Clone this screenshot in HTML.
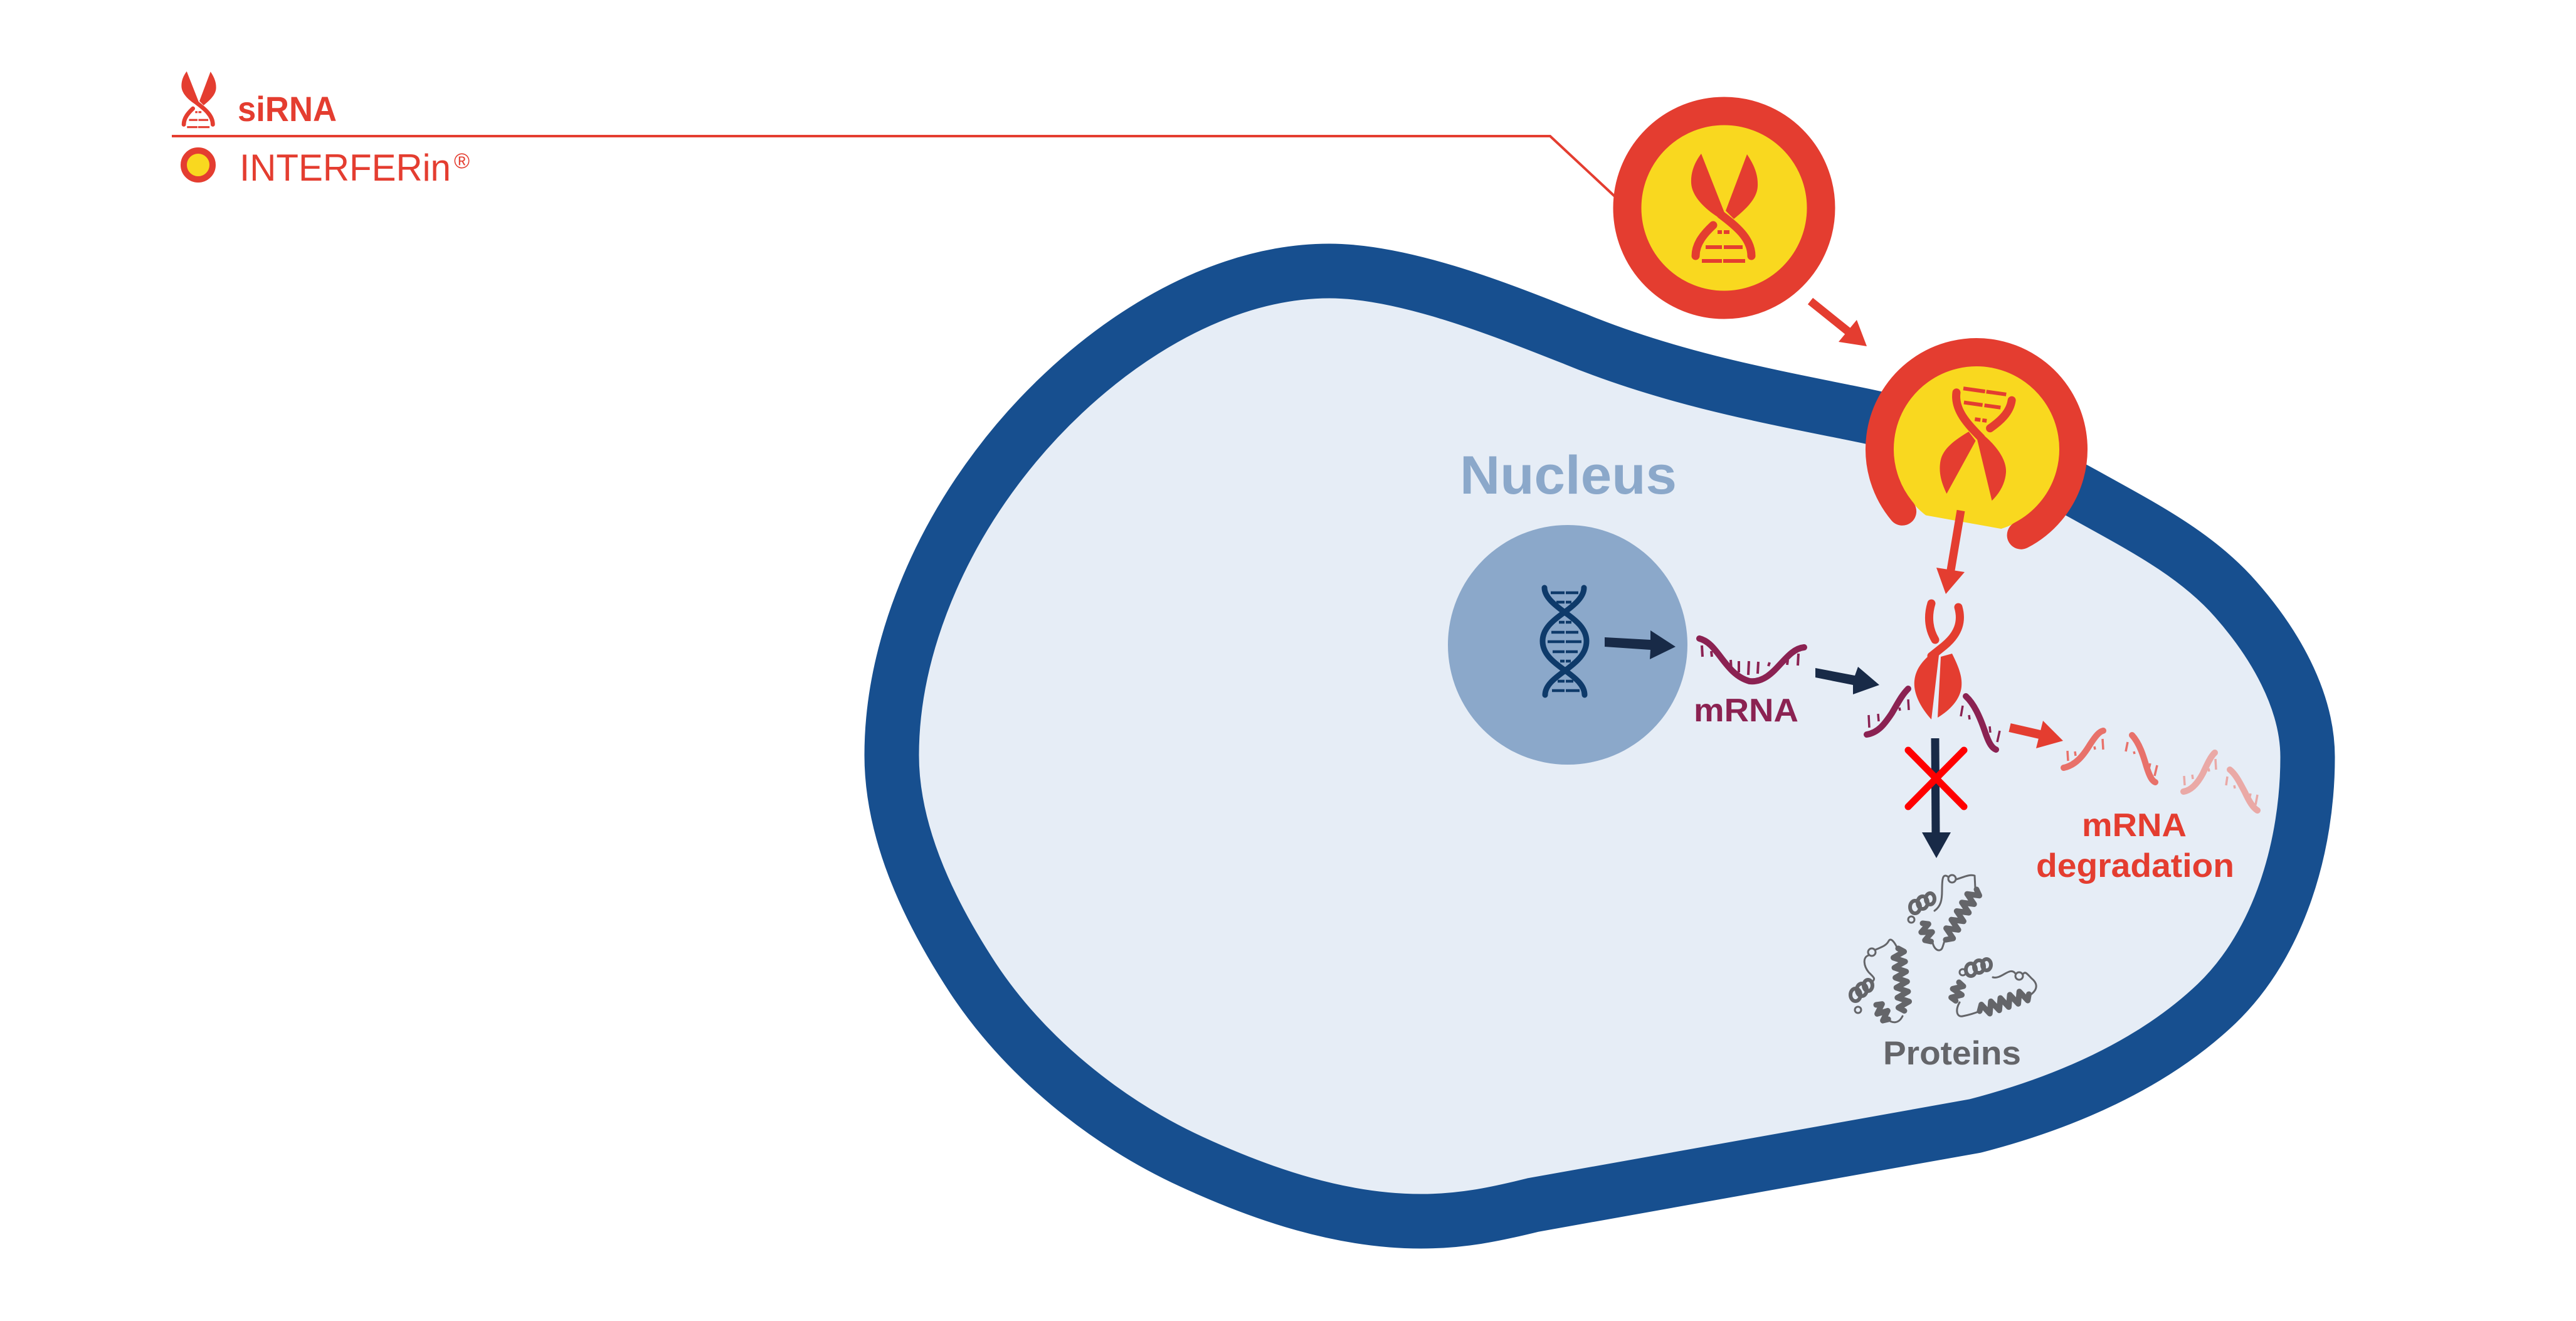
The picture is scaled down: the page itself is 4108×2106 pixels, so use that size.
<!DOCTYPE html>
<html>
<head>
<meta charset="utf-8">
<style>
html,body{margin:0;padding:0;background:#ffffff;}
svg{display:block;}
text{font-family:"Liberation Sans", sans-serif;}
</style>
</head>
<body>
<svg width="4108" height="2106" viewBox="0 0 4108 2106" xmlns="http://www.w3.org/2000/svg">
<rect x="0" y="0" width="4108" height="2106" fill="#ffffff"/>

<!-- ===== Legend ===== -->
<g transform="translate(317,159) scale(0.52)" fill="#e43d30">
  <path d="M-37,-87 L0,7 L-9,15 C-33,0 -52,-20 -53,-40 C-54,-58 -47,-74 -37,-87 Z"/>
  <path d="M-6,10 C18,28 43,48 43,76" fill="none" stroke="#e43d30" stroke-width="13" stroke-linecap="round"/>
  <path d="M36,-86 L2,4 L15,17 C36,0 52,-16 53,-35 C54,-55 46,-71 36,-86 Z"/>
  <path d="M-18,27 C-32,40 -46,56 -46,76" fill="none" stroke="#e43d30" stroke-width="13" stroke-linecap="round"/>
  <rect x="-36" y="81" width="32" height="6"/><rect x="-2" y="81" width="35" height="6"/>
  <rect x="-30" y="59" width="26" height="6"/><rect x="-1" y="59" width="30" height="6"/>
  <rect x="-11" y="35" width="7" height="6"/><rect x="-1" y="35" width="9" height="6"/>
</g>
<text x="379" y="193" font-size="56" font-weight="bold" fill="#e43d30" textLength="158" lengthAdjust="spacingAndGlyphs">siRNA</text>
<polyline points="274,217 2472,217 2575,313" fill="none" stroke="#e43d30" stroke-width="4"/>
<circle cx="316" cy="263" r="23" fill="#f9d81f" stroke="#e43d30" stroke-width="10"/>
<text x="382" y="288" font-size="60" fill="#e43d30" textLength="337" lengthAdjust="spacingAndGlyphs">INTERFERin</text>
<text x="724" y="268" font-size="34" fill="#e43d30">®</text>

<!-- ===== Cell ===== -->
<path d="M2120,432 C2250,432 2420,505 2511,540 C2656,600 2805,629 2950,658 C3076,683 3201,719 3327,790 C3411,837 3501,882 3565,955 C3626,1024 3680,1115 3680,1207 C3680,1347 3636,1503 3535,1600 C3431,1699 3289,1759 3150,1795 C2950,1831 2640,1886 2445,1921 C2380,1937 2330,1947 2266,1947 C2140,1947 2015,1905 1900,1852 C1763,1789 1635,1685 1552,1560 C1483,1455 1422,1330 1422,1204 C1422,1041 1492,875 1590,745 C1713,581 1915,432 2120,432 Z"
 fill="#e6edf6" stroke="#174f8f" stroke-width="87" stroke-linejoin="round"/>

<!-- ===== Nucleus ===== -->
<text x="2328" y="787" font-size="86" font-weight="bold" fill="#8ba8ca" textLength="346" lengthAdjust="spacingAndGlyphs">Nucleus</text>
<circle cx="2500" cy="1028" r="191" fill="#8ba8ca"/>

<!-- DNA -->
<g fill="none" stroke="#0e3a6a" stroke-linecap="round">
  <path d="M2463,937 C2463,952 2480,965 2495,976 C2515,990 2530,1003 2530,1022 C2530,1042 2515,1055 2496,1069 C2478,1082 2464,1093 2464,1108" stroke-width="9"/>
  <path d="M2526,937 C2526,952 2510,965 2495,976 C2475,990 2460,1003 2460,1022 C2460,1042 2476,1055 2496,1069 C2514,1082 2527,1093 2527,1108" stroke-width="9"/>
</g>
<g stroke="#0e3a6a" stroke-width="4.5">
  <line x1="2473" y1="945" x2="2495" y2="945"/><line x1="2497" y1="945" x2="2517" y2="945"/>
  <line x1="2482" y1="960" x2="2495" y2="960"/><line x1="2497" y1="960" x2="2506" y2="960"/>
  <line x1="2486" y1="992" x2="2495" y2="992"/><line x1="2497" y1="992" x2="2506" y2="992"/>
  <line x1="2474" y1="1008" x2="2495" y2="1008"/><line x1="2497" y1="1008" x2="2517" y2="1008"/>
  <line x1="2468" y1="1023" x2="2495" y2="1023"/><line x1="2497" y1="1023" x2="2522" y2="1023"/>
  <line x1="2476" y1="1039" x2="2495" y2="1039"/><line x1="2497" y1="1039" x2="2516" y2="1039"/>
  <line x1="2488" y1="1054" x2="2495" y2="1054"/><line x1="2497" y1="1054" x2="2505" y2="1054"/>
  <line x1="2484" y1="1086" x2="2495" y2="1086"/><line x1="2497" y1="1086" x2="2509" y2="1086"/>
  <line x1="2475" y1="1101" x2="2495" y2="1101"/><line x1="2497" y1="1101" x2="2519" y2="1101"/>
</g>

<!-- arrow DNA -> mRNA -->
<polygon points="2559,1016 2632,1020 2632,1005 2672,1031 2631,1051 2632,1036 2559,1031" fill="#182a47"/>

<!-- mRNA -->
<path d="M2710,1018 C2740,1025 2750,1075 2790,1086 C2830,1090 2845,1035 2877,1032" fill="none" stroke="#8b2252" stroke-width="10" stroke-linecap="round"/>
<g stroke="#8b2252" stroke-width="4">
  <line x1="2714" y1="1029" x2="2715" y2="1047"/>
  <line x1="2729" y1="1038" x2="2730" y2="1047"/>
  <line x1="2760" y1="1052" x2="2761" y2="1070"/>
  <line x1="2773" y1="1054" x2="2773" y2="1072"/>
  <line x1="2789" y1="1054" x2="2788" y2="1076"/>
  <line x1="2804" y1="1055" x2="2803" y2="1074"/>
  <line x1="2822" y1="1056" x2="2820" y2="1062"/>
  <line x1="2851" y1="1052" x2="2850" y2="1060"/>
  <line x1="2868" y1="1042" x2="2867" y2="1061"/>
</g>
<text x="2701" y="1150" font-size="52" font-weight="bold" fill="#8b2252" textLength="167" lengthAdjust="spacingAndGlyphs">mRNA</text>

<!-- arrow mRNA -> complex -->
<polygon points="2895,1065 2958,1077 2963,1063 2997,1092 2955,1107 2955,1092 2895,1080" fill="#182a47"/>

<!-- ===== Particle 1 ===== -->
<circle cx="2749.5" cy="331.5" r="154.5" fill="#f9d81f" stroke="#e43d30" stroke-width="45"/>
<g transform="translate(2750,332)" fill="#e43d30">
  <path d="M-37,-87 L0,7 L-9,15 C-33,0 -52,-20 -53,-40 C-54,-58 -47,-74 -37,-87 Z"/>
  <path d="M-6,10 C18,28 43,48 43,76" fill="none" stroke="#e43d30" stroke-width="13" stroke-linecap="round"/>
  <path d="M36,-86 L2,4 L15,17 C36,0 52,-16 53,-35 C54,-55 46,-71 36,-86 Z"/>
  <path d="M-18,27 C-32,40 -46,56 -46,76" fill="none" stroke="#e43d30" stroke-width="13" stroke-linecap="round"/>
  <rect x="-36" y="81" width="32" height="6"/><rect x="-2" y="81" width="35" height="6"/>
  <rect x="-30" y="59" width="26" height="6"/><rect x="-1" y="59" width="30" height="6"/>
  <rect x="-11" y="35" width="7" height="6"/><rect x="-1" y="35" width="9" height="6"/>
</g>

<!-- red arrow 1 -->
<line x1="2887" y1="480" x2="2948" y2="529" stroke="#e43d30" stroke-width="13"/>
<polygon points="2932,545 2961,510 2977,552" fill="#e43d30"/>

<!-- ===== Particle 2 (fusing with membrane) ===== -->
<defs>
  <clipPath id="cp2">
    <polygon points="2990,500 3320,500 3320,866 2990,807"/>
  </clipPath>
</defs>
<circle cx="3152" cy="716" r="133" fill="#f9d81f" clip-path="url(#cp2)"/>
<path d="M3033.6,815.3 A154.5,154.5 0 1 1 3223.1,853.2" fill="none" stroke="#e43d30" stroke-width="45" stroke-linecap="round"/>
<g transform="translate(3152,707) rotate(188)" fill="#e43d30">
  <path d="M-37,-87 L0,7 L-9,15 C-33,0 -52,-20 -53,-40 C-54,-58 -47,-74 -37,-87 Z"/>
  <path d="M-6,10 C18,28 43,48 43,76" fill="none" stroke="#e43d30" stroke-width="13" stroke-linecap="round"/>
  <path d="M36,-86 L2,4 L15,17 C36,0 52,-16 53,-35 C54,-55 46,-71 36,-86 Z"/>
  <path d="M-18,27 C-32,40 -46,56 -46,76" fill="none" stroke="#e43d30" stroke-width="13" stroke-linecap="round"/>
  <rect x="-36" y="81" width="32" height="6"/><rect x="-2" y="81" width="35" height="6"/>
  <rect x="-30" y="59" width="26" height="6"/><rect x="-1" y="59" width="30" height="6"/>
  <rect x="-11" y="35" width="7" height="6"/><rect x="-1" y="35" width="9" height="6"/>
</g>

<!-- red arrow 2 -->
<line x1="3127" y1="814" x2="3111" y2="909" stroke="#e43d30" stroke-width="13"/>
<polygon points="3088,905 3133,912 3103,947" fill="#e43d30"/>

<!-- ===== siRNA-mRNA complex ===== -->
<g fill="#e43d30">
  <path d="M3080,962 C3073,985 3077,1005 3086,1020" fill="none" stroke="#e43d30" stroke-width="13" stroke-linecap="round"/>
  <path d="M3123,968 C3130,992 3122,1012 3100,1030 C3090,1038 3085,1042 3080,1046" fill="none" stroke="#e43d30" stroke-width="13" stroke-linecap="round"/>
  <path d="M3093,1036 L3080,1147 C3062,1127 3051,1105 3053,1085 C3055,1065 3068,1050 3090,1034 Z"/>
  <path d="M3095,1047 L3113,1042 C3122,1060 3130,1078 3128,1095 C3126,1115 3110,1132 3090,1144 Z"/>
</g>
<path d="M2977,1171 C2995,1168 3005,1155 3017,1137 C3027,1120 3033,1108 3043,1098" fill="none" stroke="#8b2252" stroke-width="10" stroke-linecap="round"/>
<path d="M3135,1110 C3148,1122 3157,1142 3165,1165 C3170,1180 3175,1192 3183,1195" fill="none" stroke="#8b2252" stroke-width="10" stroke-linecap="round"/>
<g stroke="#8b2252" stroke-width="3.5">
  <line x1="2980" y1="1140" x2="2981" y2="1160"/>
  <line x1="2995" y1="1138" x2="2996" y2="1150"/>
  <line x1="3029" y1="1128" x2="3030" y2="1133"/>
  <line x1="3043" y1="1115" x2="3044" y2="1132"/>
  <line x1="3130" y1="1125" x2="3127" y2="1142"/>
  <line x1="3140" y1="1140" x2="3141" y2="1147"/>
  <line x1="3173" y1="1158" x2="3174" y2="1168"/>
  <line x1="3189" y1="1165" x2="3185" y2="1183"/>
</g>

<!-- dark arrow down + red X -->
<line x1="3086" y1="1177" x2="3087" y2="1330" stroke="#182a47" stroke-width="13"/>
<polygon points="3065,1327 3111,1327 3088,1368" fill="#182a47"/>
<g stroke="#ff0000" stroke-width="11" stroke-linecap="round">
  <line x1="3043" y1="1196" x2="3132" y2="1286"/>
  <line x1="3132" y1="1196" x2="3043" y2="1286"/>
</g>

<!-- red arrow 3 -->
<line x1="3205" y1="1160" x2="3253" y2="1171" stroke="#e43d30" stroke-width="14"/>
<polygon points="3258,1149 3290,1181 3247,1193" fill="#e43d30"/>

<!-- ===== mRNA fragments ===== -->
<g fill="none" stroke-width="10" stroke-linecap="round">
  <path d="M3291,1224 C3310,1220 3322,1205 3333,1187 C3342,1173 3348,1166 3354,1165" stroke="#e8716a"/>
  <path d="M3400,1172 C3412,1185 3418,1205 3423,1222 C3428,1238 3432,1245 3437,1247" stroke="#e8716a"/>
  <path d="M3482,1262 C3495,1260 3505,1248 3513,1233 C3520,1218 3526,1205 3532,1200" stroke="#eaa9a6"/>
  <path d="M3556,1227 C3566,1235 3573,1250 3580,1263 C3587,1278 3593,1288 3600,1292" stroke="#eaa9a6"/>
</g>
<g stroke="#e8716a" stroke-width="3.5">
  <line x1="3297" y1="1197" x2="3298" y2="1213"/>
  <line x1="3309" y1="1198" x2="3310" y2="1205"/>
  <line x1="3340" y1="1190" x2="3341" y2="1195"/>
  <line x1="3353" y1="1178" x2="3354" y2="1195"/>
  <line x1="3393" y1="1183" x2="3390" y2="1198"/>
  <line x1="3403" y1="1198" x2="3404" y2="1202"/>
  <line x1="3429" y1="1217" x2="3427" y2="1225"/>
  <line x1="3440" y1="1220" x2="3436" y2="1237"/>
</g>
<g stroke="#eaa9a6" stroke-width="3.5">
  <line x1="3483" y1="1237" x2="3484" y2="1252"/>
  <line x1="3496" y1="1235" x2="3497" y2="1242"/>
  <line x1="3522" y1="1225" x2="3523" y2="1230"/>
  <line x1="3533" y1="1210" x2="3534" y2="1227"/>
  <line x1="3552" y1="1238" x2="3550" y2="1252"/>
  <line x1="3563" y1="1252" x2="3564" y2="1257"/>
  <line x1="3589" y1="1265" x2="3588" y2="1270"/>
  <line x1="3600" y1="1267" x2="3597" y2="1283"/>
</g>
<text x="3320" y="1333" font-size="52" font-weight="bold" fill="#e43d30" textLength="167" lengthAdjust="spacingAndGlyphs">mRNA</text>
<text x="3247" y="1398" font-size="53" font-weight="bold" fill="#e43d30" textLength="316" lengthAdjust="spacingAndGlyphs">degradation</text>

<!-- ===== Proteins ===== -->
<g stroke="#646569" fill="none" stroke-linecap="round" stroke-linejoin="round">
  <!-- protein 1 -->
  <g transform="translate(3152,1418) rotate(121.5)"><path d="M0,0 L6,-9 L14,9 L22,-9 L30,9 L38,-9 L46,9 L54,-9 L62,9 L70,-9 L78,9 L86,-9 L94,0" stroke-width="9"/></g>
  <path d="M3150,1416 L3149,1396 C3140,1393 3128,1400 3119,1402" stroke-width="3"/>
  <circle cx="3113" cy="1401" r="6" stroke-width="3"/>
  <path d="M3107,1398 C3098,1392 3097,1400 3097,1420 C3097,1435 3095,1445 3085,1452" stroke-width="3"/>
  <ellipse cx="3054" cy="1446" rx="8" ry="10" stroke-width="6"/>
  <ellipse cx="3066" cy="1439" rx="8" ry="10" stroke-width="6"/>
  <ellipse cx="3078" cy="1433" rx="7" ry="9" stroke-width="6"/>
  <circle cx="3048" cy="1466" r="5" stroke-width="3"/>
  <g transform="translate(3066,1472) rotate(65)"><path d="M0,0 L5,-8 L12,8 L19,-8 L26,8 L32,0" stroke-width="9"/></g>
  <path d="M3082,1503 C3085,1515 3093,1518 3097,1512 C3100,1505 3100,1500 3103,1498" stroke-width="3"/>
  <!-- protein 2 -->
  <g transform="translate(3027,1512) rotate(84.3)"><path d="M0,0 L6,-9 L14,9 L22,-9 L30,9 L38,-9 L46,9 L54,-9 L62,9 L70,-9 L78,9 L86,-9 L94,9 L100,0" stroke-width="9"/></g>
  <path d="M3025,1510 C3020,1500 3015,1495 3012,1500 C3008,1508 3000,1510 2991,1514" stroke-width="3"/>
  <circle cx="2985" cy="1518" r="6" stroke-width="3"/>
  <path d="M2980,1523 C2970,1526 2972,1540 2980,1550 C2988,1558 2992,1560 2985,1566" stroke-width="3"/>
  <ellipse cx="2959" cy="1586" rx="8" ry="10" stroke-width="6"/>
  <ellipse cx="2969" cy="1578" rx="8" ry="10" stroke-width="6"/>
  <ellipse cx="2979" cy="1571" rx="7" ry="9" stroke-width="6"/>
  <circle cx="2963" cy="1610" r="5" stroke-width="3"/>
  <g transform="translate(2992,1602) rotate(50)"><path d="M0,0 L5,-8 L12,8 L19,-8 L26,8 L30,0" stroke-width="9"/></g>
  <path d="M3010,1625 C3018,1632 3028,1632 3034,1620" stroke-width="3"/>
  <!-- protein 3 -->
  <g transform="translate(3157,1612) rotate(-19)"><path d="M0,0 L6,-9 L14,9 L22,-9 L30,9 L38,-9 L46,9 L54,-9 L62,9 L70,-9 L78,9 L83,0" stroke-width="9"/></g>
  <path d="M3235,1588 C3248,1580 3252,1570 3240,1560 C3232,1552 3230,1548 3226,1553" stroke-width="3"/>
  <circle cx="3220" cy="1556" r="6" stroke-width="3"/>
  <path d="M3214,1552 C3205,1540 3192,1562 3178,1558" stroke-width="3"/>
  <ellipse cx="3143" cy="1546" rx="8" ry="10" stroke-width="6"/>
  <ellipse cx="3156" cy="1541" rx="8" ry="10" stroke-width="6"/>
  <ellipse cx="3168" cy="1538" rx="7" ry="9" stroke-width="6"/>
  <circle cx="3130" cy="1550" r="5" stroke-width="3"/>
  <g transform="translate(3124,1566) rotate(100)"><path d="M0,0 L5,-8 L12,8 L19,-8 L26,8 L30,0" stroke-width="9"/></g>
  <path d="M3125,1598 C3118,1610 3120,1622 3130,1620 C3140,1618 3150,1615 3157,1612" stroke-width="3"/>
</g>
<text x="3003" y="1697" font-size="53" font-weight="bold" fill="#646569" textLength="220" lengthAdjust="spacingAndGlyphs">Proteins</text>

</svg>
</body>
</html>
